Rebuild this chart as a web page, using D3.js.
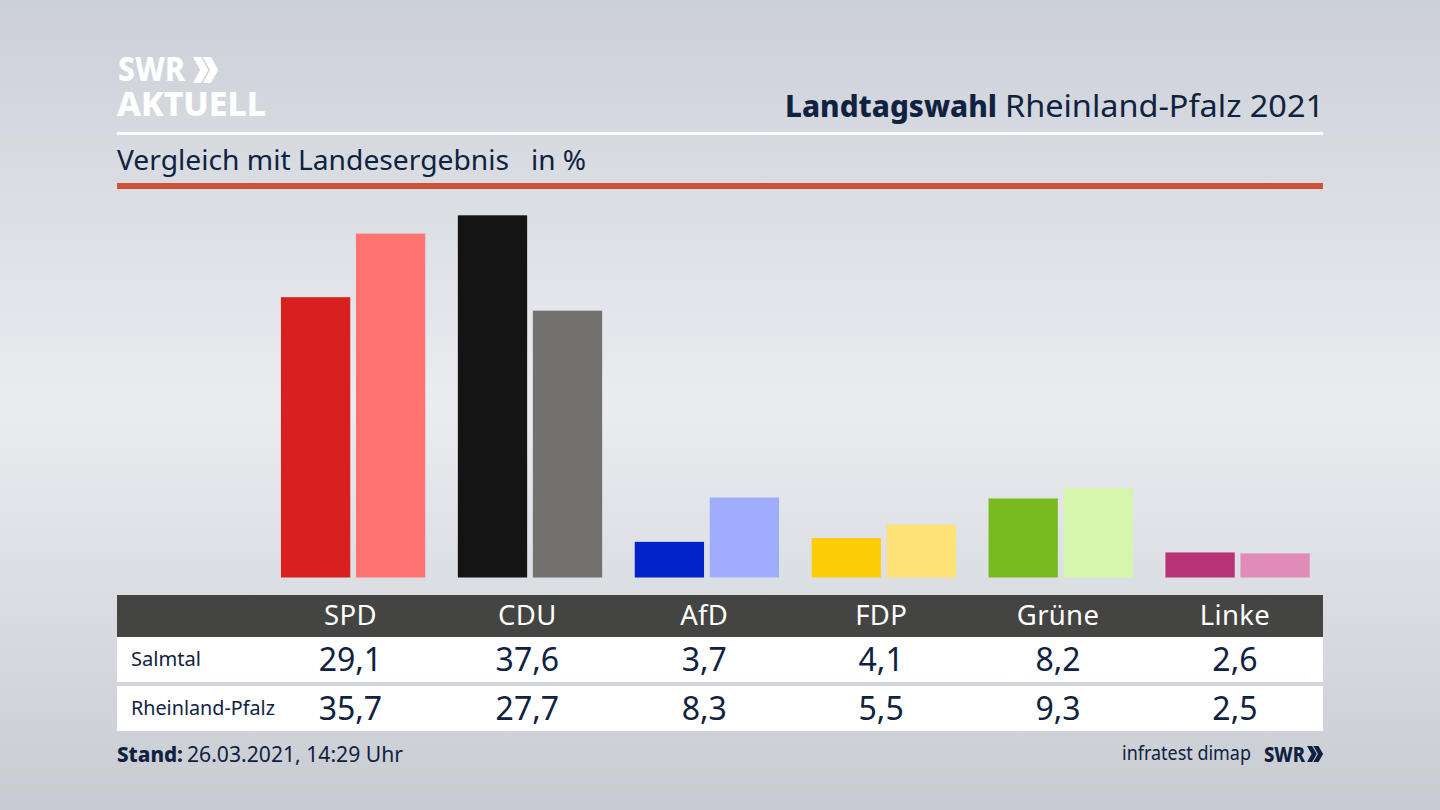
<!DOCTYPE html>
<html>
<head>
<meta charset="utf-8">
<style>
html, body { margin: 0; padding: 0; background: #d5d8de; }
svg { display: block; }
text { font-family: "Noto Sans", sans-serif; fill: #0f2240; }
</style>
</head>
<body>
<script src="https://cdn.jsdelivr.net/npm/d3@7"></script>
<script>
var parties = ["SPD", "CDU", "AfD", "FDP", "Grüne", "Linke"];
var salmtal = [29.1, 37.6, 3.7, 4.1, 8.2, 2.6];
var rlp = [35.7, 27.7, 8.3, 5.5, 9.3, 2.5];
var rowNames = ["Salmtal", "Rheinland-Pfalz"];
var colorsLocal = ["#d7201f", "#141414", "#0022c8", "#ffcc0a", "#78bb1c", "#b93176"];
var colorsState = ["#ff7370", "#72716f", "#9fadff", "#ffe275", "#d5f6ab", "#e08bb8"];

var width = 1440, height = 810;
var fmt = function(v) { return v.toFixed(1).replace(".", ","); };

var svg = d3.select("body").append("svg")
  .attr("width", width)
  .attr("height", height);

// background
var grad = svg.append("defs").append("linearGradient")
  .attr("id", "bg").attr("x1", 0).attr("y1", 0).attr("x2", 0).attr("y2", 1);
grad.append("stop").attr("offset", "0%").attr("stop-color", "#ccd0d7");
grad.append("stop").attr("offset", "50%").attr("stop-color", "#eaecf0");
grad.append("stop").attr("offset", "100%").attr("stop-color", "#c8ccd2");
svg.append("rect").attr("width", width).attr("height", height).attr("fill", "url(#bg)");

// scales
var x = d3.scaleBand().domain(parties).range([262, 1323.4]).padding(0);
var y = d3.scaleLinear().domain([0, 37.6]).range([577.5, 215.3]);
var barW = 69.3;

var groups = svg.selectAll("g.party")
  .data(parties)
  .enter().append("g")
  .attr("class", "party")
  .attr("transform", function(d) { return "translate(" + (x(d) + x.bandwidth() / 2) + ",0)"; });

groups.append("rect")
  .attr("x", -69.5)
  .attr("width", barW)
  .attr("y", function(d, i) { return y(salmtal[i]); })
  .attr("height", function(d, i) { return y(0) - y(salmtal[i]); })
  .attr("fill", function(d, i) { return colorsLocal[i]; });

groups.append("rect")
  .attr("x", 5.5)
  .attr("width", barW)
  .attr("y", function(d, i) { return y(rlp[i]); })
  .attr("height", function(d, i) { return y(0) - y(rlp[i]); })
  .attr("fill", function(d, i) { return colorsState[i]; });

// fitted text: the original font is not installed, so widths are set by hand
function fit(str, px, py, w, size, weight, col) {
  return svg.append("text")
    .attr("x", px).attr("y", py)
    .attr("textLength", w).attr("lengthAdjust", "spacingAndGlyphs")
    .style("font-size", size + "px")
    .style("font-weight", weight)
    .style("fill", col || "#0f2240")
    .text(str);
}

// header
svg.append("rect").attr("x", 117).attr("y", 132).attr("width", 1206).attr("height", 3).attr("fill", "#fff");
svg.append("rect").attr("x", 117).attr("y", 183).attr("width", 1206).attr("height", 6).attr("fill", "#cd5238");

fit("Landtagswahl", 785, 117, 212, 31, 800);
fit("Rheinland-Pfalz 2021", 1005, 117, 319, 31, 400);
fit("Vergleich mit Landesergebnis", 117, 170, 392, 28, 400);
fit("in %", 531, 170, 55, 28, 400);

// logo
fit("SWR", 118, 81, 67, 33, 800, "#fff");
fit("AKTUELL", 117, 116, 149, 34, 800, "#fff");
function chevrons(px, py, sx, sy, col) {
  [0, 0.55].forEach(function(o) {
    svg.append("path")
      .attr("transform", "translate(" + (px + o * sx) + "," + py + ") scale(" + sx + "," + sy + ")")
      .attr("d", "M0,0 L0.45,0 L0.85,0.5 L0.45,1 L0,1 L0.4,0.5 Z")
      .attr("fill", col);
  });
}
chevrons(193, 57, 18, 26, "#fff");

// table
svg.append("rect").attr("x", 117).attr("y", 595).attr("width", 1206).attr("height", 42).attr("fill", "#444442");
svg.append("rect").attr("x", 117).attr("y", 637).attr("width", 1206).attr("height", 45).attr("fill", "#fff");
svg.append("rect").attr("x", 117).attr("y", 686).attr("width", 1206).attr("height", 45).attr("fill", "#fff");

svg.selectAll("text.head")
  .data(parties)
  .enter().append("text")
  .attr("class", "head")
  .attr("x", function(d) { return x(d) + x.bandwidth() / 2; })
  .attr("y", 625)
  .attr("text-anchor", "middle")
  .style("font-size", "27.5px")
  .style("letter-spacing", "0.3px")
  .style("fill", "#fff")
  .text(function(d) { return d; });

[salmtal, rlp].forEach(function(row, r) {
  var base = 670 + r * 49;
  fit(rowNames[r], 131, base - 4, r ? 144 : 70, 20, 400);
  svg.selectAll("text.val" + r)
    .data(row)
    .enter().append("text")
    .attr("class", "val" + r)
    .attr("x", function(d, i) { return x(parties[i]) + x.bandwidth() / 2; })
    .attr("y", base + 1)
    .attr("text-anchor", "middle")
    .style("font-size", "32px")
    .text(fmt);
});

// footer
fit("Stand:", 117, 762, 66, 22, 800);
fit("26.03.2021, 14:29 Uhr", 187, 762, 216, 22, 400);
fit("infratest dimap", 1122, 760, 129, 20, 400);
fit("SWR", 1264, 762, 41, 21, 800);
chevrons(1307, 746, 11.5, 16, "#0f2240");
</script>
</body>
</html>
